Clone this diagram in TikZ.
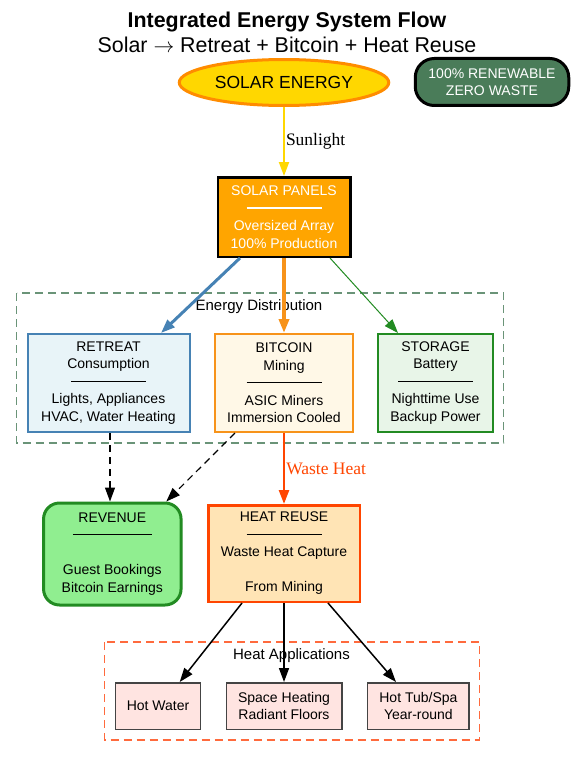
\documentclass[tikz,border=0pt]{standalone}
\usepackage{fontspec}
\setmainfont{Liberation Sans}
\newfontfamily\labelfont{Liberation Serif}
\usetikzlibrary{arrows.meta,shapes.geometric}

\definecolor{solargold}{HTML}{FFD700}
\definecolor{solarorange}{HTML}{FF8C00}
\definecolor{badgegreen}{HTML}{4A7C59}
\definecolor{panelorange}{HTML}{FFA500}
\definecolor{retreatfill}{HTML}{E8F4F8}
\definecolor{retreatblue}{HTML}{4682B4}
\definecolor{btcfill}{HTML}{FFF8E7}
\definecolor{btcorange}{HTML}{F7931A}
\definecolor{storefill}{HTML}{E8F5E8}
\definecolor{storegreen}{HTML}{228B22}
\definecolor{revfill}{HTML}{90EE90}
\definecolor{heatfill}{HTML}{FFE4B5}
\definecolor{heatred}{HTML}{FF4500}
\definecolor{appfill}{HTML}{FFE4E1}
\definecolor{appdraw}{HTML}{444444}
\definecolor{distgreen}{HTML}{6A9478}
\definecolor{heatdash}{HTML}{FF6A3D}

\newcommand{\sepline}[1][75pt]{\rule[4.5pt]{#1}{1.3pt}}

\begin{document}
\begin{tikzpicture}[x=1pt,y=-1pt,
  box/.style={draw,rectangle,line width=2pt,inner sep=0pt,align=center,font=\fontsize{14}{17.5}\selectfont},
  app/.style={box,fill=appfill,draw=appdraw,line width=1.5pt,minimum height=46.5pt},
  cluster/.style={dash pattern=on 8pt off 5pt,line width=1.2pt},
  clabel/.style={font=\fontsize{15}{17}\selectfont},
  tip/.style={-{Triangle[length=14pt,width=10pt]}},
  elabel/.style={right,inner sep=1pt,font=\labelfont\fontsize{17.5}{19}\selectfont}]
\useasboundingbox (0,0) rectangle (572,757);

% title
\node[font=\fontsize{21.4}{22}\selectfont\bfseries,inner sep=0pt] (title) at (287,22) {Integrated Energy System Flow};
\node[font=\fontsize{21.4}{22}\selectfont,inner sep=0pt] (subtitle) at (287,44.5) {Solar $\rightarrow$ Retreat + Bitcoin + Heat Reuse};

% clusters
\draw[cluster,draw=distgreen] (16.5,293) rectangle (503.5,443);
\node[clabel] (distlabel) at (259,307) {Energy Distribution};
\draw[cluster,draw=heatdash] (104.5,642) rectangle (479.5,740);
\node[clabel] (applabel) at (291.5,656) {Heat Applications};

% source
\node[ellipse,draw=solarorange,fill=solargold,line width=3pt,minimum width=209.5pt,minimum height=46pt,inner sep=0pt,
  font=\fontsize{17.5}{19}\selectfont] (sun) at (284,82.5) {SOLAR ENERGY};
\node[box,draw=black,fill=badgegreen,text=white,line width=3pt,rounded corners=19pt,
  minimum width=153.5pt,minimum height=47pt] (badge) at (492,82) {100\% RENEWABLE\\ZERO WASTE};
\node[box,fill=panelorange,draw=black,line width=2.5pt,text=white,minimum width=132.5pt,minimum height=79.5pt]
  (panels) at (284,217) {SOLAR PANELS\\\sepline\\Oversized Array\\100\% Production};

% distribution
\node[box,fill=retreatfill,draw=retreatblue,minimum width=162pt,minimum height=98pt]
  (retreat) at (108.5,383) {RETREAT\\Consumption\\\sepline\\Lights, Appliances\\HVAC, Water Heating};
\node[box,fill=btcfill,draw=btcorange,minimum width=138pt,minimum height=98pt]
  (bitcoin) at (284,383) {BITCOIN\\Mining\\\sepline\\ASIC Miners\\Immersion Cooled};
\node[box,fill=storefill,draw=storegreen,minimum width=115pt,minimum height=98pt]
  (storage) at (435.5,383) {STORAGE\\Battery\\\sepline\\Nighttime Use\\Backup Power};

% outputs
\node[box,fill=revfill,draw=storegreen,line width=3pt,rounded corners=16pt,minimum width=137.5pt,minimum height=102pt]
  (revenue) at (112.3,554) {REVENUE\\\sepline[79pt]\\\strut\\Guest Bookings\\Bitcoin Earnings};
\node[box,fill=heatfill,draw=heatred,line width=2.5pt,minimum width=151.5pt,minimum height=96.5pt]
  (heat) at (284,553.5) {HEAT REUSE\\\sepline\\Waste Heat Capture\\\strut\\From Mining};

% heat applications
\node[app,minimum width=85pt] (hotwater) at (158,706) {Hot Water};
\node[app,minimum width=115.5pt] (space) at (284,706) {Space Heating\\Radiant Floors};
\node[app,minimum width=101.5pt] (hottub) at (418.4,706) {Hot Tub/Spa\\Year-round};

% edges
\draw[tip,solargold,line width=2pt] (sun) -- node[elabel,text=black]{Sunlight} (panels);
\draw[tip,retreatblue,line width=3pt] ([xshift=-44pt]panels.south) -- ([xshift=52.5pt]retreat.north);
\draw[tip,btcorange,line width=3.5pt] (panels) -- (bitcoin);
\draw[tip,storegreen,line width=1pt] ([xshift=46pt]panels.south) -- ([xshift=-37.5pt]storage.north);
\draw[tip,dash pattern=on 7pt off 5pt,line width=1.2pt] ([xshift=1.5pt]retreat.south) -- ([xshift=-2.3pt]revenue.north);
\draw[tip,dash pattern=on 7pt off 5pt,line width=1.2pt] ([xshift=-49pt]bitcoin.south) -- ([xshift=54pt]revenue.north);
\draw[tip,heatred,line width=2.5pt] (bitcoin) -- node[elabel,text=heatred]{Waste Heat} (heat);
\draw[tip,line width=1.5pt] ([xshift=-42pt]heat.south) -- ([xshift=21.7pt]hotwater.north);
\draw[tip,line width=1.5pt] (heat) -- (space);
\draw[tip,line width=1.5pt] ([xshift=44pt]heat.south) -- ([xshift=-22.4pt]hottub.north);
\end{tikzpicture}
\end{document}
